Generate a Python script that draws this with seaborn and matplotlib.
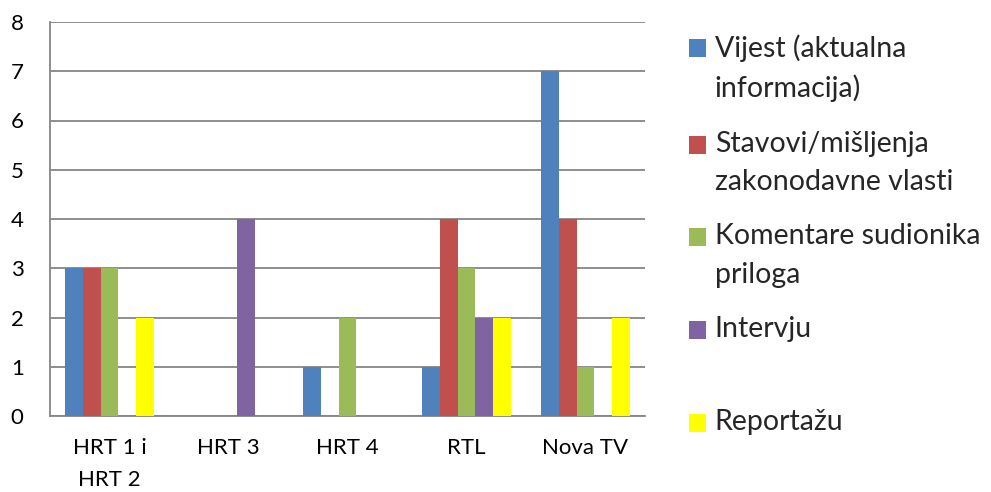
import matplotlib
matplotlib.use("Agg")
import matplotlib.pyplot as plt
import seaborn as sns
import pandas as pd
from matplotlib.patches import Patch, Rectangle
from matplotlib.legend_handler import HandlerPatch

categories = ["HRT 1 i\nHRT 2", "HRT 3", "HRT 4", "RTL", "Nova TV"]
series = ["Vijest (aktualna\ninformacija)", "Stavovi/mišljenja\nzakonodavne vlasti",
          "Komentare sudionika\npriloga", "Intervju\n", "Reportažu"]
vijest = [3, 0, 1, 1, 7]
stavovi = [3, 0, 0, 4, 4]
komentare = [3, 0, 2, 3, 1]
intervju = [0, 4, 0, 2, 0]
reportazu = [2, 0, 0, 2, 2]
colors = ["#4F81BD", "#C0504D", "#9BBB59", "#8064A2", "#FFFF00"]
yticks = [0, 1, 2, 3, 4, 5, 6, 7, 8]

rows = []
for s, vals in zip(series, [vijest, stavovi, komentare, intervju, reportazu]):
    for c, v in zip(categories, vals):
        rows.append({"cat": c, "series": s, "value": v})
df = pd.DataFrame(rows)

sns.set_style("white")
plt.rcParams['font.family'] = ['Lato', 'DejaVu Sans']

fig = plt.figure(figsize=(9.91, 4.92), dpi=100)
ax = fig.add_axes([50/991, 76/492, 595/991, 394/492])

sns.barplot(data=df, x="cat", y="value", hue="series", order=categories,
            hue_order=series, palette=colors, width=0.756, saturation=1,
            linewidth=0, ax=ax, legend=False, zorder=3)

ax.set_ylim(0, 8)
ax.set_xlim(-0.5, 4.5)
ax.set_yticks(yticks)
ax.yaxis.grid(True, color="#868686", linewidth=1.3, zorder=0)
ax.set_axisbelow(True)
ax.set_xlabel("")
ax.set_ylabel("")
for s in ["top", "right"]:
    ax.spines[s].set_visible(False)
for s in ["left", "bottom"]:
    ax.spines[s].set_color("#868686")
    ax.spines[s].set_linewidth(1.3)

ax.tick_params(axis="y", length=8, width=1.3, color="#868686", pad=11,
               labelsize=16, labelcolor="black")
ax.tick_params(axis="x", which="major", length=0, pad=16, labelsize=16,
               labelcolor="black")
ax.set_xticks([i - 0.5 for i in range(len(categories) + 1)], minor=True)
ax.tick_params(axis="x", which="minor", length=8, width=1.3, color="#868686")
for t in ax.get_xticklabels():
    t.set_linespacing(1.72)


def square(legend, orig_handle, xdescent, ydescent, width, height, fontsize):
    shift = 0.17 * fontsize
    return Rectangle((-xdescent, -ydescent - shift), width, height)


handles = [Patch(facecolor=c, edgecolor="none") for c in colors]
leg = fig.legend(handles, series, loc="upper left", bbox_to_anchor=(689/991, 1 - 34/492),
                 frameon=False, fontsize=20.5, handlelength=0.6, handleheight=0.6,
                 handletextpad=0.3, labelspacing=1.0, borderpad=0, borderaxespad=0,
                 handler_map={Patch: HandlerPatch(patch_func=square)})
for t in leg.get_texts():
    t.set_linespacing(1.58)
for col in leg._legend_handle_box.get_children():
    for item in col.get_children():
        item.align = "top"

fig.savefig("out.png", dpi=100)
